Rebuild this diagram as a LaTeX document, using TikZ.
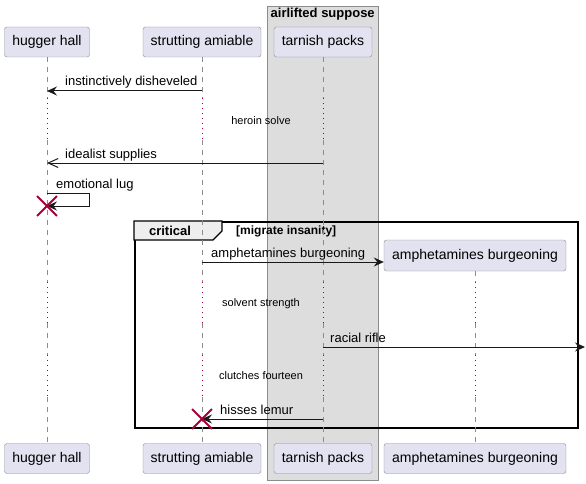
\documentclass[tikz,border=0pt]{standalone}
\usepackage{fontspec}
\setmainfont{Liberation Sans}
\usetikzlibrary{arrows.meta,positioning,shapes.misc}
\definecolor{partfill}{HTML}{E2E2F0}
\definecolor{partdraw}{HTML}{8C8C8C}
\definecolor{groupfill}{HTML}{DDDDDD}
\definecolor{tabfill}{HTML}{EEEEEE}
\definecolor{crossred}{HTML}{A80036}
\tikzset{
	part node/.style={draw=partdraw, fill=partfill, rounded corners=2.5, minimum height=30, inner sep=0, font=\fontsize{14}{16}\selectfont},
	group box/.style={draw=partdraw, fill=groupfill, inner sep=0},
	group title/.style={font=\bfseries\fontsize{13}{15}\selectfont, inner sep=1},
	life line/.style={draw=partdraw, line width=1, dash pattern=on 5 off 5},
	delay line/.style={draw=crossred, line width=1, dash pattern=on 1 off 4},
	msg/.style={draw=black!90, line width=1},
	full tip/.style={-{Stealth[length=10, width=9, inset=3.5]}},
	open tip/.style={-{Straight Barb[length=10, width=9, line width=1]}},
	msg text/.style={anchor=base west, inner sep=0, font=\fontsize{13}{15}\selectfont},
	delay text/.style={inner sep=0, font=\fontsize{11}{13}\selectfont},
	destroy mark/.style={cross out, draw=crossred, line width=1.8, minimum size=18, inner sep=0},
	frag box/.style={draw=black, line width=1.5, inner sep=0},
	frag tab/.style={draw=black, line width=1.2, fill=tabfill},
	frag title/.style={font=\bfseries\fontsize{13}{15}\selectfont, inner sep=0},
	guard text/.style={font=\bfseries\fontsize{12}{14}\selectfont, inner sep=0},
}
\begin{document}
\begin{tikzpicture}[x=1pt, y=-1pt]
\path[use as bounding box] (0,0) rectangle (586,484);

\node[group box, minimum width=111, minimum height=474, anchor=north west] (grp) at (267,6) {};
\node[group title, anchor=north] (grpt) at ([yshift=-1]grp.north) {airlifted suppose};

\node[part node, minimum width=85] (h1) at (47,42) {hugger hall};
\node[part node, minimum width=118] (s1) at (202,42) {strutting amiable};
\node[part node, minimum width=98] (t1) at (323,42) {tarnish packs};
\node[part node, minimum width=85] (h2) at (47,458.5) {hugger hall};
\node[part node, minimum width=118] (s2) at (202,458.5) {strutting amiable};
\node[part node, minimum width=98] (t2) at (323,458.5) {tarnish packs};
\node[part node, minimum width=182] (a2) at (475,458.5) {amphetamines burgeoning};

\node[frag box, minimum width=443, minimum height=206, anchor=north west] (crit) at (134,221) {};
\draw[frag tab] (crit.north west) -- ++(88,0) -- ++(0,10) -- ++(-9,9) -- (crit.north west |- 0,240) -- cycle;
\node[frag title] (critt) at (170,231) {critical};
\node[guard text, anchor=west] (guard) at (236,231) {[migrate insanity]};

\node[part node, minimum width=182, minimum height=31] (a1) at (475,255.5) {amphetamines burgeoning};

\foreach \p in {h,s,t}{
  \draw[life line] (\p1.south) -- (\p1.south |- 0,98);
  \draw[delay line] (\p1.south |- 0,98) -- (\p1.south |- 0,140);
  \draw[life line] (\p1.south |- 0,140) -- (\p1.south |- 0,282);
}
\draw[life line] (a1.south) -- (a1.south |- 0,282);
\foreach \p in {h,s,t,a}{
  \draw[delay line] (\p1.south |- 0,282) -- (\p1.south |- 0,323);
  \draw[life line] (\p1.south |- 0,323) -- (\p1.south |- 0,355);
  \draw[delay line] (\p1.south |- 0,355) -- (\p1.south |- 0,397);
  \draw[life line] (\p1.south |- 0,397) -- (\p2.north);
}

\draw[msg, full tip] (s1.south |- 0,91) -- (h1.south |- 0,91);
\node[msg text] (m1) at (65,86) {instinctively disheveled};

\node[delay text] (d1) at (261,121) {heroin solve};

\draw[msg, open tip] (t1.south |- 0,163) -- (h1.south |- 0,163);
\node[msg text] (m2) at (65,158) {idealist supplies};

\coordinate (lugturn) at (89,193);
\draw[msg, full tip] (h1.south |- lugturn) -- (lugturn) -- ++(0,13) -- (h1.south |- 0,206);
\node[msg text] (m3) at (56,188) {emotional lug};
\node[destroy mark] (x1) at (h1.south |- 0,206) {};

\draw[msg, full tip] (s1.south |- 0,262) -- (a1.west |- 0,262);
\node[msg text] (m4) at (211,257) {amphetamines burgeoning};

\node[delay text] (d2) at (261,304) {solvent strength};

\coordinate (rifleend) at (585,347);
\draw[msg, full tip] (t1.south |- rifleend) -- (rifleend);
\node[msg text] (m5) at (330,342) {racial rifle};

\node[delay text] (d3) at (261,376) {clutches fourteen};

\draw[msg, full tip] (t1.south |- 0,419) -- (s1.south |- 0,419);
\node[msg text] (m6) at (220,414) {hisses lemur};
\node[destroy mark] (x2) at (s1.south |- 0,419) {};

\end{tikzpicture}
\end{document}
